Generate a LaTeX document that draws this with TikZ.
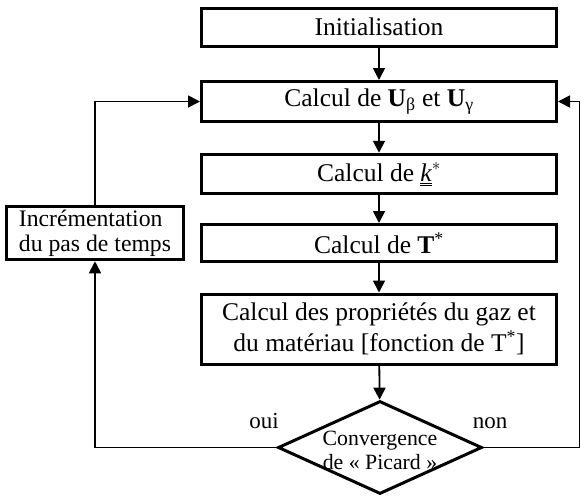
\documentclass[tikz,border=0pt]{standalone}
\usepackage{fontspec}
\setmainfont{Liberation Serif}
\usetikzlibrary{shapes.geometric,arrows.meta,positioning}
\tikzset{
  procbox/.style={rectangle,draw=black,line width=3pt,minimum width=355pt,minimum height=#1,
    inner sep=0pt,align=center,font=\fontsize{25.5}{31}\selectfont},
  procbox/.default={40pt},
  decision/.style={diamond,draw=black,line width=3pt,minimum width=204pt,minimum height=93pt,
    inner sep=0pt},
  flowarrow/.style={-{Triangle[length=12pt,width=12pt]},line width=1.8pt},
  answer/.style={font=\fontsize{23}{27}\selectfont,anchor=base},
}
\begin{document}
\begin{tikzpicture}[x=1pt,y=-1pt]
  \useasboundingbox (0,0) rectangle (581,498);
  \node[procbox=38pt]   (init)  at (379,27)    {Initialisation};
  \node[procbox]        (calcU) at (379,101.5) {Calcul de \textbf{U}\textsubscript{β} et \textbf{U}\textsubscript{γ}};
  \node[procbox=39.5pt] (calck) at (379,174)   {Calcul de $\underline{\underline{\textit{k}}}^{*}$};
  \node[procbox=37pt]   (calcT) at (379,243)   {Calcul de \textbf{T}\textsuperscript{*}};
  \node[procbox=70pt]   (props) at (379,329)   {Calcul des propriétés du gaz et\\du matériau [fonction de T\textsuperscript{*}]};
  \node[decision] (conv) at (380,447.5) {};
  \node[font=\fontsize{21.8}{24}\selectfont,align=center] (convtxt) at (380,450) {Convergence\\de « Picard »};
  \node[procbox=53.5pt,minimum width=177pt,align=left,font=\fontsize{23.7}{25}\selectfont] (incr) at (95,233) {Incrémentation\\du pas de temps};
  \coordinate (rgt) at (579.5,447.5);
  \node[answer] (oui) at (264,428) {oui};
  \node[answer] (non) at (490,428) {non};
  \draw[flowarrow] (init) -- (calcU);
  \draw[flowarrow] (calcU) -- (calck);
  \draw[flowarrow] (calck) -- (calcT);
  \draw[flowarrow] (calcT) -- (props);
  \draw[flowarrow] (props) -- (conv);
  \draw[flowarrow] (conv.west) -| (incr.south);
  \draw[flowarrow] (incr.north) |- (calcU.west);
  \draw[flowarrow] (conv.east) -- (rgt) |- (calcU.east);
\end{tikzpicture}
\end{document}
